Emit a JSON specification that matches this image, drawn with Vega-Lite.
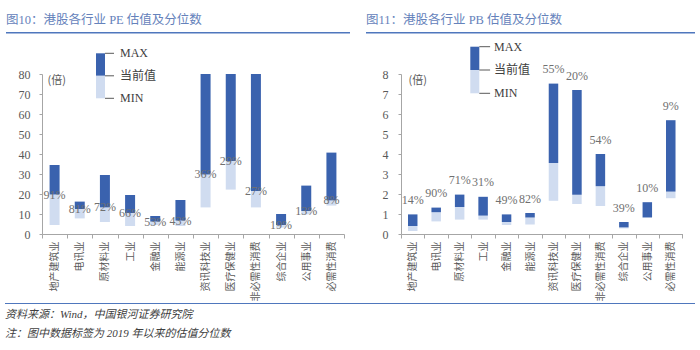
{
  "$schema": "https://vega.github.io/schema/vega-lite/v6.json",
  "padding": 0,
  "background": "white",
  "config": {"view": {"stroke": null}, "concat": {"spacing": 0}},
  "datasets": {
    "pe": [
      {"ind": "地产建筑业", "min": 4.5, "cur": 19.7, "max": 34.5, "pct": "91%"},
      {"ind": "电讯业", "min": 7.8, "cur": 12.5, "max": 16.2, "pct": "81%"},
      {"ind": "原材料业", "min": 6.0, "cur": 13.3, "max": 29.5, "pct": "72%"},
      {"ind": "工业", "min": 4.0, "cur": 10.5, "max": 19.5, "pct": "66%"},
      {"ind": "金融业", "min": 4.5, "cur": 6.2, "max": 9.0, "pct": "53%"},
      {"ind": "能源业", "min": 4.0, "cur": 6.7, "max": 17.0, "pct": "43%"},
      {"ind": "资讯科技业", "min": 13.3, "cur": 29.8, "max": 80, "pct": "36%"},
      {"ind": "医疗保健业", "min": 22.2, "cur": 36.5, "max": 80, "pct": "29%"},
      {"ind": "非必需性消费", "min": 13.3, "cur": 21.5, "max": 80, "pct": "27%"},
      {"ind": "综合企业", "min": 3.2, "cur": 4.5, "max": 10.0, "pct": "19%"},
      {"ind": "公用事业", "min": 9.8, "cur": 11.5, "max": 24.2, "pct": "13%"},
      {"ind": "必需性消费", "min": 14.2, "cur": 16.8, "max": 40.7, "pct": "8%"}
    ],
    "pb": [
      {"ind": "地产建筑业", "min": 0.15, "cur": 0.4, "max": 0.98, "pct": "14%"},
      {"ind": "电讯业", "min": 0.63, "cur": 1.09, "max": 1.32, "pct": "90%"},
      {"ind": "原材料业", "min": 0.72, "cur": 1.35, "max": 1.97, "pct": "71%"},
      {"ind": "工业", "min": 0.72, "cur": 0.92, "max": 1.86, "pct": "31%"},
      {"ind": "金融业", "min": 0.45, "cur": 0.6, "max": 0.98, "pct": "49%"},
      {"ind": "能源业", "min": 0.48, "cur": 0.83, "max": 1.05, "pct": "82%"},
      {"ind": "资讯科技业", "min": 1.66, "cur": 3.55, "max": 7.52, "pct": "55%"},
      {"ind": "医疗保健业", "min": 1.5, "cur": 1.96, "max": 7.2, "pct": "20%"},
      {"ind": "非必需性消费", "min": 1.4, "cur": 2.39, "max": 4.0, "pct": "54%"},
      {"ind": "综合企业", "min": 0.28, "cur": 0.33, "max": 0.6, "pct": "39%"},
      {"ind": "公用事业", "min": 0.8, "cur": 0.83, "max": 1.59, "pct": "10%"},
      {"ind": "必需性消费", "min": 1.79, "cur": 2.12, "max": 5.69, "pct": "9%"}
    ],
    "leg": [
      {"label": "MAX", "v": 2},
      {"label": "当前值", "v": 1},
      {"label": "MIN", "v": 0}
    ]
  },
  "bounds": "flush",
  "spacing": 0,
  "vconcat": [
    {"width": 695, "height": 32, "data": {"values": []}, "mark": "point"},
    {
      "bounds": "flush",
      "spacing": 0,
      "hconcat": [
        {"width": 6, "height": 1.5, "data": {"values": []}, "mark": "point"},
        {"width": 344, "height": 1.5, "view": {"fill": "#4f77bd", "stroke": null}, "data": {"values": []}, "mark": "point",
         "title": {"text": "图10：港股各行业 PE 估值及分位数", "anchor": "start", "orient": "top", "offset": 6, "fontSize": 12.5, "color": "#6582bb", "font": "Liberation Serif, Noto Sans CJK SC", "fontWeight": "normal"}},
        {"width": 16, "height": 1.5, "data": {"values": []}, "mark": "point"},
        {"width": 329, "height": 1.5, "view": {"fill": "#4f77bd", "stroke": null}, "data": {"values": []}, "mark": "point",
         "title": {"text": "图11：港股各行业 PB 估值及分位数", "anchor": "start", "orient": "top", "offset": 6, "fontSize": 12.5, "color": "#6582bb", "font": "Liberation Serif, Noto Sans CJK SC", "fontWeight": "normal"}}
      ]
    },
    {"width": 10, "height": 42, "data": {"values": []}, "mark": "point"},
    {
      "bounds": "flush",
      "spacing": 0,
      "hconcat": [
        {"width": 42, "height": 160, "data": {"values": []}, "mark": "point"},
        {
          "width": 302,
          "height": 160,
          "layer": [
            {
              "data": {"name": "pe"},
              "encoding": {
                "x": {"field": "ind", "type": "nominal", "sort": null, "scale": {"paddingInner": 0, "paddingOuter": 0},
                  "axis": {"title": null, "labelAngle": -90, "labelFontSize": 10, "labelFont": "Noto Sans CJK SC", "labelColor": "#595959", "domainColor": "#a6a6a6", "tickColor": "#a6a6a6", "tickSize": 4, "tickBand": "extent", "labelPadding": 3}}
              },
              "layer": [
                {"mark": {"type": "bar", "width": 10, "color": "#d0dcf0"},
                 "encoding": {
                   "y": {"field": "min", "type": "quantitative", "scale": {"domain": [0, 80]},
                     "axis": {"values": [0, 10, 20, 30, 40, 50, 60, 70, 80], "tickCount": 9, "labelOverlap": false, "grid": false, "title": "(倍)", "titleAngle": 0, "titleX": 5, "titleY": 6, "titleAlign": "left", "titleBaseline": "middle", "titleFontWeight": "normal", "titleFontSize": 11, "titleColor": "#595959", "titleFont": "Noto Sans CJK SC", "domainColor": "#a6a6a6", "tickColor": "#a6a6a6", "tickSize": 3, "labelFontSize": 12, "labelFont": "Liberation Serif", "labelColor": "#595959", "labelPadding": 9}},
                   "y2": {"field": "cur"}
                 }},
                {"mark": {"type": "bar", "width": 10, "color": "#3a62ae"},
                 "encoding": {"y": {"field": "cur", "type": "quantitative", "scale": {"domain": [0, 80]},
                     "axis": {"values": [0, 10, 20, 30, 40, 50, 60, 70, 80], "tickCount": 9, "labelOverlap": false, "grid": false, "title": "(倍)", "titleAngle": 0, "titleX": 5, "titleY": 6, "titleAlign": "left", "titleBaseline": "middle", "titleFontWeight": "normal", "titleFontSize": 11, "titleColor": "#595959", "titleFont": "Noto Sans CJK SC", "domainColor": "#a6a6a6", "tickColor": "#a6a6a6", "tickSize": 3, "labelFontSize": 12, "labelFont": "Liberation Serif", "labelColor": "#595959", "labelPadding": 9}}, "y2": {"field": "max"}}},
                {"mark": {"type": "text", "fontSize": 12, "color": "#707070", "font": "Liberation Serif", "baseline": "middle"},
                 "encoding": {"y": {"field": "cur", "type": "quantitative", "scale": {"domain": [0, 80]},
                     "axis": {"values": [0, 10, 20, 30, 40, 50, 60, 70, 80], "tickCount": 9, "labelOverlap": false, "grid": false, "title": "(倍)", "titleAngle": 0, "titleX": 5, "titleY": 6, "titleAlign": "left", "titleBaseline": "middle", "titleFontWeight": "normal", "titleFontSize": 11, "titleColor": "#595959", "titleFont": "Noto Sans CJK SC", "domainColor": "#a6a6a6", "tickColor": "#a6a6a6", "tickSize": 3, "labelFontSize": 12, "labelFont": "Liberation Serif", "labelColor": "#595959", "labelPadding": 9}}, "text": {"field": "pct"}}}
              ]
            },
            {
              "data": {"name": "leg"},
              "layer": [
                {"transform": [{"filter": "datum.label == 'MAX'"}],
                 "mark": {"type": "bar", "color": "#3a62ae"},
                 "encoding": {
                   "x": {"datum": 0, "type": "quantitative", "scale": {"domain": [0, 1], "range": [54, 63]}, "axis": null},
                   "x2": {"datum": 1},
                   "y": {"field": "v", "type": "quantitative", "scale": {"domain": [0, 2], "range": [24.3, -20.7]}, "axis": null},
                   "y2": {"datum": 1}
                 }},
                {"transform": [{"filter": "datum.label == 'MIN'"}],
                 "mark": {"type": "bar", "color": "#d0dcf0"},
                 "encoding": {
                   "x": {"datum": 0, "type": "quantitative", "axis": null},
                   "x2": {"datum": 1},
                   "y": {"field": "v", "type": "quantitative", "axis": null},
                   "y2": {"datum": 1}
                 }},
                {"mark": {"type": "rule", "color": "#595959", "strokeWidth": 1},
                 "encoding": {
                   "x": {"datum": 1, "type": "quantitative", "axis": null},
                   "x2": {"datum": 2},
                   "y": {"field": "v", "type": "quantitative", "axis": null}
                 }},
                {"mark": {"type": "text", "align": "left", "baseline": "middle", "dx": 6, "fontSize": 12, "font": "Liberation Serif, Noto Sans CJK SC", "color": "#404040"},
                 "encoding": {
                   "x": {"datum": 2, "type": "quantitative", "axis": null},
                   "y": {"field": "v", "type": "quantitative", "axis": null},
                   "text": {"field": "label"}
                 }}
              ]
            }
          ],
          "resolve": {"scale": {"x": "independent", "y": "independent"}}
        },
        {"width": 56.5, "height": 160, "data": {"values": []}, "mark": "point"},
        {
          "width": 281.5,
          "height": 160,
          "layer": [
            {
              "data": {"name": "pb"},
              "encoding": {
                "x": {"field": "ind", "type": "nominal", "sort": null, "scale": {"paddingInner": 0, "paddingOuter": 0},
                  "axis": {"title": null, "labelAngle": -90, "labelFontSize": 10, "labelFont": "Noto Sans CJK SC", "labelColor": "#595959", "domainColor": "#a6a6a6", "tickColor": "#a6a6a6", "tickSize": 4, "tickBand": "extent", "labelPadding": 3}}
              },
              "layer": [
                {"mark": {"type": "bar", "width": 9.5, "color": "#d0dcf0"},
                 "encoding": {
                   "y": {"field": "min", "type": "quantitative", "scale": {"domain": [0, 8]},
                     "axis": {"values": [0, 1, 2, 3, 4, 5, 6, 7, 8], "tickCount": 9, "labelOverlap": false, "grid": false, "title": "(倍)", "titleAngle": 0, "titleX": 7, "titleY": 6, "titleAlign": "left", "titleBaseline": "middle", "titleFontWeight": "normal", "titleFontSize": 11, "titleColor": "#595959", "titleFont": "Noto Sans CJK SC", "domainColor": "#a6a6a6", "tickColor": "#a6a6a6", "tickSize": 3, "labelFontSize": 12, "labelFont": "Liberation Serif", "labelColor": "#595959", "labelPadding": 10}},
                   "y2": {"field": "cur"}
                 }},
                {"mark": {"type": "bar", "width": 9.5, "color": "#3a62ae"},
                 "encoding": {"y": {"field": "cur", "type": "quantitative", "scale": {"domain": [0, 8]},
                     "axis": {"values": [0, 1, 2, 3, 4, 5, 6, 7, 8], "tickCount": 9, "labelOverlap": false, "grid": false, "title": "(倍)", "titleAngle": 0, "titleX": 7, "titleY": 6, "titleAlign": "left", "titleBaseline": "middle", "titleFontWeight": "normal", "titleFontSize": 11, "titleColor": "#595959", "titleFont": "Noto Sans CJK SC", "domainColor": "#a6a6a6", "tickColor": "#a6a6a6", "tickSize": 3, "labelFontSize": 12, "labelFont": "Liberation Serif", "labelColor": "#595959", "labelPadding": 10}}, "y2": {"field": "max"}}},
                {"mark": {"type": "text", "fontSize": 12, "color": "#707070", "font": "Liberation Serif", "baseline": "middle", "dy": -14.5},
                 "encoding": {"y": {"field": "max", "type": "quantitative", "scale": {"domain": [0, 8]},
                     "axis": {"values": [0, 1, 2, 3, 4, 5, 6, 7, 8], "tickCount": 9, "labelOverlap": false, "grid": false, "title": "(倍)", "titleAngle": 0, "titleX": 7, "titleY": 6, "titleAlign": "left", "titleBaseline": "middle", "titleFontWeight": "normal", "titleFontSize": 11, "titleColor": "#595959", "titleFont": "Noto Sans CJK SC", "domainColor": "#a6a6a6", "tickColor": "#a6a6a6", "tickSize": 3, "labelFontSize": 12, "labelFont": "Liberation Serif", "labelColor": "#595959", "labelPadding": 10}}, "text": {"field": "pct"}}}
              ]
            },
            {
              "data": {"name": "leg"},
              "layer": [
                {"transform": [{"filter": "datum.label == 'MAX'"}],
                 "mark": {"type": "bar", "color": "#3a62ae"},
                 "encoding": {
                   "x": {"datum": 0, "type": "quantitative", "scale": {"domain": [0, 1], "range": [69.3, 78.3]}, "axis": null},
                   "x2": {"datum": 1},
                   "y": {"field": "v", "type": "quantitative", "scale": {"domain": [0, 2], "range": [19.3, -27.3]}, "axis": null},
                   "y2": {"datum": 1}
                 }},
                {"transform": [{"filter": "datum.label == 'MIN'"}],
                 "mark": {"type": "bar", "color": "#d0dcf0"},
                 "encoding": {
                   "x": {"datum": 0, "type": "quantitative", "axis": null},
                   "x2": {"datum": 1},
                   "y": {"field": "v", "type": "quantitative", "axis": null},
                   "y2": {"datum": 1}
                 }},
                {"mark": {"type": "rule", "color": "#595959", "strokeWidth": 1},
                 "encoding": {
                   "x": {"datum": 1, "type": "quantitative", "axis": null},
                   "x2": {"datum": 2.2},
                   "y": {"field": "v", "type": "quantitative", "axis": null}
                 }},
                {"mark": {"type": "text", "align": "left", "baseline": "middle", "dx": 4, "fontSize": 12, "font": "Liberation Serif, Noto Sans CJK SC", "color": "#404040"},
                 "encoding": {
                   "x": {"datum": 2.2, "type": "quantitative", "axis": null},
                   "y": {"field": "v", "type": "quantitative", "axis": null},
                   "text": {"field": "label"}
                 }}
              ]
            }
          ],
          "resolve": {"scale": {"x": "independent", "y": "independent"}}
        }
      ]
    },
    {"width": 10, "height": 229, "data": {"values": []}, "mark": "point"},
    {
      "bounds": "flush",
      "spacing": 0,
      "hconcat": [
        {"width": 5, "height": 1, "data": {"values": []}, "mark": "point"},
        {"width": 690, "height": 1, "view": {"fill": "#4f77bd", "stroke": null}, "data": {"values": []}, "mark": "point",
         "title": {"text": ["资料来源：Wind，中国银河证券研究院", "注：图中数据标签为 2019 年以来的估值分位数"], "orient": "bottom", "anchor": "start", "offset": 5, "lineHeight": 19, "fontSize": 11, "fontStyle": "italic", "fontWeight": "normal", "color": "#404040", "font": "Liberation Serif, Noto Sans CJK SC"}}
      ]
    }
  ]
}
